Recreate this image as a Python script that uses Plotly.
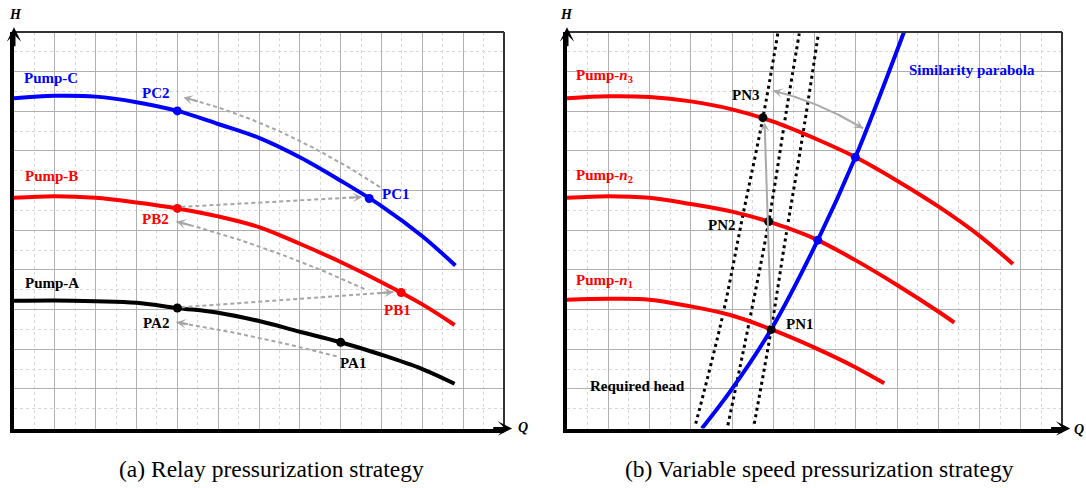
import numpy as np
import plotly.graph_objects as go

# ---------------- data: (a) relay pressurization ----------------
q_grid = [0, 1, 2, 3, 4, 5, 6, 7, 8, 9, 10]
q_c = q_grid + [10.81]
h_c = [8.33, 8.39, 8.37, 8.23, 8.01, 7.68, 7.33, 6.84, 6.25, 5.61, 4.85, 4.11]
q_b = q_grid + [10.79]
h_b = [5.82, 5.86, 5.82, 5.70, 5.55, 5.35, 5.08, 4.66, 4.20, 3.69, 3.13, 2.61]
q_a = q_grid + [10.79]
h_a = [3.22, 3.23, 3.21, 3.17, 3.04, 2.92, 2.71, 2.44, 2.175, 1.86, 1.50, 1.13]

pts_a = {"PC2": (4.0, 8.01), "PC1": (8.7, 5.80),
         "PB2": (4.0, 5.55), "PB1": (9.48, 3.43),
         "PA2": (4.0, 3.04), "PA1": (8.0, 2.175)}

# ---------------- data: (b) variable speed pressurization ----------------
q_n3 = q_grid + [10.81]
h_n3 = [8.33, 8.38, 8.36, 8.25, 8.05, 7.74, 7.32, 6.84, 6.25, 5.60, 4.86, 4.15]
q_n2 = q_grid[:10] + [9.39]
h_n2 = [5.82, 5.86, 5.82, 5.66, 5.47, 5.18, 4.79, 4.24, 3.62, 2.95, 2.67]
q_n1 = q_grid[:8] + [7.69]
h_n1 = [3.25, 3.27, 3.25, 3.08, 2.85, 2.48, 2.04, 1.54, 1.14]

q_sim = [3.27, 4.0, 4.95, 6.08, 6.99, 8.17]
h_sim = [0.0, 1.0, 2.5, 4.75, 6.84, 10.0]

q_req1 = [3.12, 3.77, 4.27, 4.75, 5.11]
h_req1 = [0.12, 2.83, 5.41, 7.84, 9.96]
q_req2 = [3.90, 4.43, 4.89, 5.32, 5.63]
h_req2 = [0.08, 2.75, 5.22, 8.02, 9.96]
q_req3 = [4.54, 4.95, 5.29, 5.72, 6.10]
h_req3 = [0.12, 2.50, 4.75, 7.43, 10.0]

pts_b = {"PN1": (4.95, 2.50), "PN2": (4.89, 5.22), "PN3": (4.75, 7.84)}
sim_pts_q = [6.08, 6.99]
sim_pts_h = [4.75, 6.84]

BLUE, RED, BLACK = "#0000ff", "#ff0000", "#000000"
GRAY = "#a6a6a6"
SERIF = "Liberation Serif"

W, H = 1086, 488
dom_ax = [14 / W, 504 / W]
dom_bx = [567 / W, 1062 / W]
dom_y = [(H - 428.5) / H, (H - 32) / H]

fig = go.Figure()


def curve(xs, ys, color, xa, ya, width=4, dash="solid", shape="spline"):
    fig.add_trace(go.Scatter(x=xs, y=ys, mode="lines", xaxis=xa, yaxis=ya,
                             line=dict(color=color, width=width, dash=dash,
                                       shape=shape, smoothing=1.0),
                             hoverinfo="skip"))


def dots(xs, ys, color, xa, ya, size=9):
    fig.add_trace(go.Scatter(x=xs, y=ys, mode="markers", xaxis=xa, yaxis=ya,
                             marker=dict(color=color, size=size),
                             hoverinfo="skip"))


def bezier(p0, p1, lift, n=50):
    t = np.linspace(0, 1, n)
    cx = (p0[0] + p1[0]) / 2
    cy = (p0[1] + p1[1]) / 2 + 2 * lift
    x = (1 - t) ** 2 * p0[0] + 2 * (1 - t) * t * cx + t ** 2 * p1[0]
    y = (1 - t) ** 2 * p0[1] + 2 * (1 - t) * t * cy + t ** 2 * p1[1]
    return x, y


def head(xr, yr, tip, tail, color, width=2, size=0.8):
    fig.add_annotation(x=tip[0], y=tip[1], ax=tail[0], ay=tail[1],
                       xref=xr, yref=yr, axref=xr, ayref=yr, text="",
                       showarrow=True, arrowhead=3, arrowsize=size,
                       arrowwidth=width, arrowcolor=color, standoff=0)


def arrow_path(p0, p1, lift, xa, ya, color, dash, both=False):
    x, y = bezier(p0, p1, lift)
    curve(x, y, color, xa, ya, width=2, dash=dash, shape="linear")
    xr, yr = xa.replace("axis", ""), ya.replace("axis", "")
    k = 4
    head(xr, yr, (x[-1], y[-1]), (x[-1 - k], y[-1 - k]), color)
    if both:
        head(xr, yr, (x[0], y[0]), (x[k], y[k]), color)


# ---------- panel (a) ----------
curve(q_c, h_c, BLUE, "x", "y")
curve(q_b, h_b, RED, "x", "y")
curve(q_a, h_a, BLACK, "x", "y")

arrow_path((8.96, 6.09), (4.15, 8.35), 0.25, "x", "y", GRAY, "4px,3px")
arrow_path((4.10, 5.59), (8.53, 5.84), 0.0, "x", "y", GRAY, "4px,3px")
arrow_path((8.58, 3.52), (3.98, 5.22), 0.12, "x", "y", GRAY, "4px,3px")
arrow_path((4.10, 3.06), (9.29, 3.44), 0.0, "x", "y", GRAY, "4px,3px")
arrow_path((7.90, 1.82), (3.98, 2.68), 0.05, "x", "y", GRAY, "4px,3px")

dots([pts_a["PC2"][0], pts_a["PC1"][0]], [pts_a["PC2"][1], pts_a["PC1"][1]], BLUE, "x", "y")
dots([pts_a["PB2"][0], pts_a["PB1"][0]], [pts_a["PB2"][1], pts_a["PB1"][1]], RED, "x", "y")
dots([pts_a["PA2"][0], pts_a["PA1"][0]], [pts_a["PA2"][1], pts_a["PA1"][1]], BLACK, "x", "y")

# ---------- panel (b) ----------
for qs, hs in ((q_req1, h_req1), (q_req2, h_req2), (q_req3, h_req3)):
    curve(qs, hs, BLACK, "x2", "y2", width=3, dash="3px,3.6px")
curve(q_n3, h_n3, RED, "x2", "y2")
curve(q_n2, h_n2, RED, "x2", "y2")
curve(q_n1, h_n1, RED, "x2", "y2")
curve(q_sim, h_sim, BLUE, "x2", "y2")

fig.add_annotation(x=4.79, y=7.72, ax=4.95, ay=2.55, xref="x2", yref="y2",
                   axref="x2", ayref="y2", text="", showarrow=True,
                   arrowhead=3, arrowsize=0.8, arrowwidth=2,
                   arrowcolor="#a9a9a9", standoff=0)
arrow_path((5.00, 8.52), (7.18, 7.57), 0.1, "x2", "y2", "#a9a9a9", "solid", both=True)

dots(sim_pts_q, sim_pts_h, BLUE, "x2", "y2")
dots([p[0] for p in pts_b.values()], [p[1] for p in pts_b.values()], BLACK, "x2", "y2")

# ---------- labels ----------
def label(text, x, y, color, xr, yr, anchor="center", size=15):
    fig.add_annotation(x=x, y=y, xref=xr, yref=yr, text="<b>%s</b>" % text,
                       showarrow=False, xanchor=anchor, yanchor="middle",
                       font=dict(family=SERIF, size=size, color=color))


label("Pump-C", 0.19, 8.85, BLUE, "x", "y", "left")
label("PC2", 3.47, 8.46, BLUE, "x", "y")
label("PC1", 9.35, 5.91, BLUE, "x", "y")
label("Pump-B", 0.22, 6.36, RED, "x", "y", "left")
label("PB2", 3.47, 5.29, RED, "x", "y")
label("PB1", 9.38, 3.00, RED, "x", "y")
label("Pump-A", 0.22, 3.67, BLACK, "x", "y", "left")
label("PA2", 3.47, 2.65, BLACK, "x", "y")
label("PA1", 8.31, 1.65, BLACK, "x", "y")

label("Pump-<i>n</i><sub>3</sub>", 0.17, 8.88, RED, "x2", "y2", "left")
label("Pump-<i>n</i><sub>2</sub>", 0.17, 6.36, RED, "x2", "y2", "left")
label("Pump-<i>n</i><sub>1</sub>", 0.17, 3.71, RED, "x2", "y2", "left")
label("PN3", 4.34, 8.40, BLACK, "x2", "y2")
label("PN2", 3.75, 5.12, BLACK, "x2", "y2")
label("PN1", 5.66, 2.63, BLACK, "x2", "y2")
label("Similarity parabola", 9.82, 9.03, BLUE, "x2", "y2")
label("Required head", 1.71, 1.06, BLACK, "x2", "y2")

# axis names
for txt, px, py in (("H", 15, 15), ("Q", 523, 427), ("H", 566, 15), ("Q", 1079, 429)):
    fig.add_annotation(x=px / W, y=(H - py) / H, xref="paper", yref="paper",
                       text="<b><i>%s</i></b>" % txt, showarrow=False,
                       xanchor="center", yanchor="middle",
                       font=dict(family=SERIF, size=14, color=BLACK))

# captions
for txt, px in (("(a) Relay pressurization strategy", 271),
                ("(b) Variable speed pressurization strategy", 819)):
    fig.add_annotation(x=px / W, y=(H - 469) / H, xref="paper", yref="paper",
                       text=txt, showarrow=False,
                       xanchor="center", yanchor="middle",
                       font=dict(family=SERIF, size=23.5, color=BLACK))

# axis arrowheads
for xr, yr in (("x", "y"), ("x2", "y2")):
    head(xr, yr, (0, 10.12), (0, 9.6), BLACK, width=3, size=0.8)
    head(xr, yr, (12.2, 0), (11.7, 0), BLACK, width=3, size=0.8)

# top and right frame lines
for dx in (dom_ax, dom_bx):
    fig.add_shape(type="line", xref="paper", yref="paper", x0=dx[0], x1=dx[1],
                  y0=dom_y[1], y1=dom_y[1], line=dict(color="#333333", width=2))
    fig.add_shape(type="line", xref="paper", yref="paper", x0=dx[1], x1=dx[1],
                  y0=dom_y[0], y1=dom_y[1], line=dict(color="#333333", width=2))

axis_common = dict(showticklabels=False, ticks="", zeroline=False,
                   showgrid=True, gridcolor="#b0b0b0", gridwidth=1,
                   showline=True, linecolor=BLACK, linewidth=3.5,
                   minor=dict(showgrid=True, gridcolor="#d8d8d8",
                              griddash="dot", gridwidth=1))

fig.update_layout(
    width=W, height=H, margin=dict(l=0, r=0, t=0, b=0),
    paper_bgcolor="white", plot_bgcolor="white", showlegend=False,
    xaxis=dict(domain=dom_ax, range=[0, 12], dtick=1,
               minor_dtick=0.5, anchor="y", **axis_common),
    yaxis=dict(domain=dom_y, range=[0, 10], dtick=1,
               minor_dtick=0.5, anchor="x", **axis_common),
    xaxis2=dict(domain=dom_bx, range=[0, 12], dtick=1,
                minor_dtick=0.5, anchor="y2", **axis_common),
    yaxis2=dict(domain=dom_y, range=[0, 10], dtick=1,
                minor_dtick=0.5, anchor="x2", **axis_common),
)

fig.write_html("out.html")
